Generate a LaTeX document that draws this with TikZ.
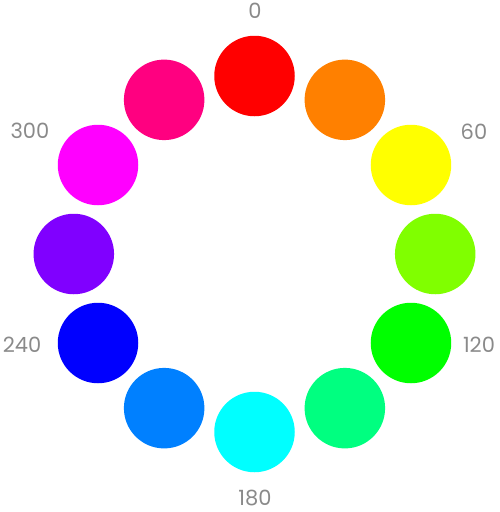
\documentclass[tikz,border=0pt]{standalone}
\usepackage{fontspec}
\setmainfont{Poppins}
\definecolor{h0}{HTML}{FF0000}
\definecolor{h1}{HTML}{FF8000}
\definecolor{h2}{HTML}{FFFF00}
\definecolor{h3}{HTML}{80FF00}
\definecolor{h4}{HTML}{00FF00}
\definecolor{h5}{HTML}{00FF80}
\definecolor{h6}{HTML}{00FFFF}
\definecolor{h7}{HTML}{0080FF}
\definecolor{h8}{HTML}{0000FF}
\definecolor{h9}{HTML}{8000FF}
\definecolor{h10}{HTML}{FF00FF}
\definecolor{h11}{HTML}{FF0080}
\definecolor{labelgray}{HTML}{8A8A8A}
\tikzset{
  dot/.style={circle, inner sep=0pt, minimum size=80.5pt, draw=none},
  deglabel/.style={text=labelgray, font=\fontsize{21}{21}\selectfont, inner sep=0pt, text depth=0pt, text height=15pt, anchor=base}
}
\begin{document}
\begin{tikzpicture}[x=1pt,y=-1pt]
\useasboundingbox (0,0) rectangle (500,512);
\foreach \i in {0,...,11} {
  \pgfmathsetmacro{\ang}{30*\i}
  \node[dot, fill=h\i] (c\i) at ({254.5+180.7*sin(\ang)},{254-178*cos(\ang)}) {};
}
\node[deglabel] (l0) at (255,18) {0};
\node[deglabel] (l60) at (474,139) {60};
\node[deglabel] (l120) at (479,352) {120};
\node[deglabel] (l180) at (255,505) {180};
\node[deglabel] (l240) at (22,352) {240};
\node[deglabel] (l300) at (30,138) {300};
\end{tikzpicture}
\end{document}
